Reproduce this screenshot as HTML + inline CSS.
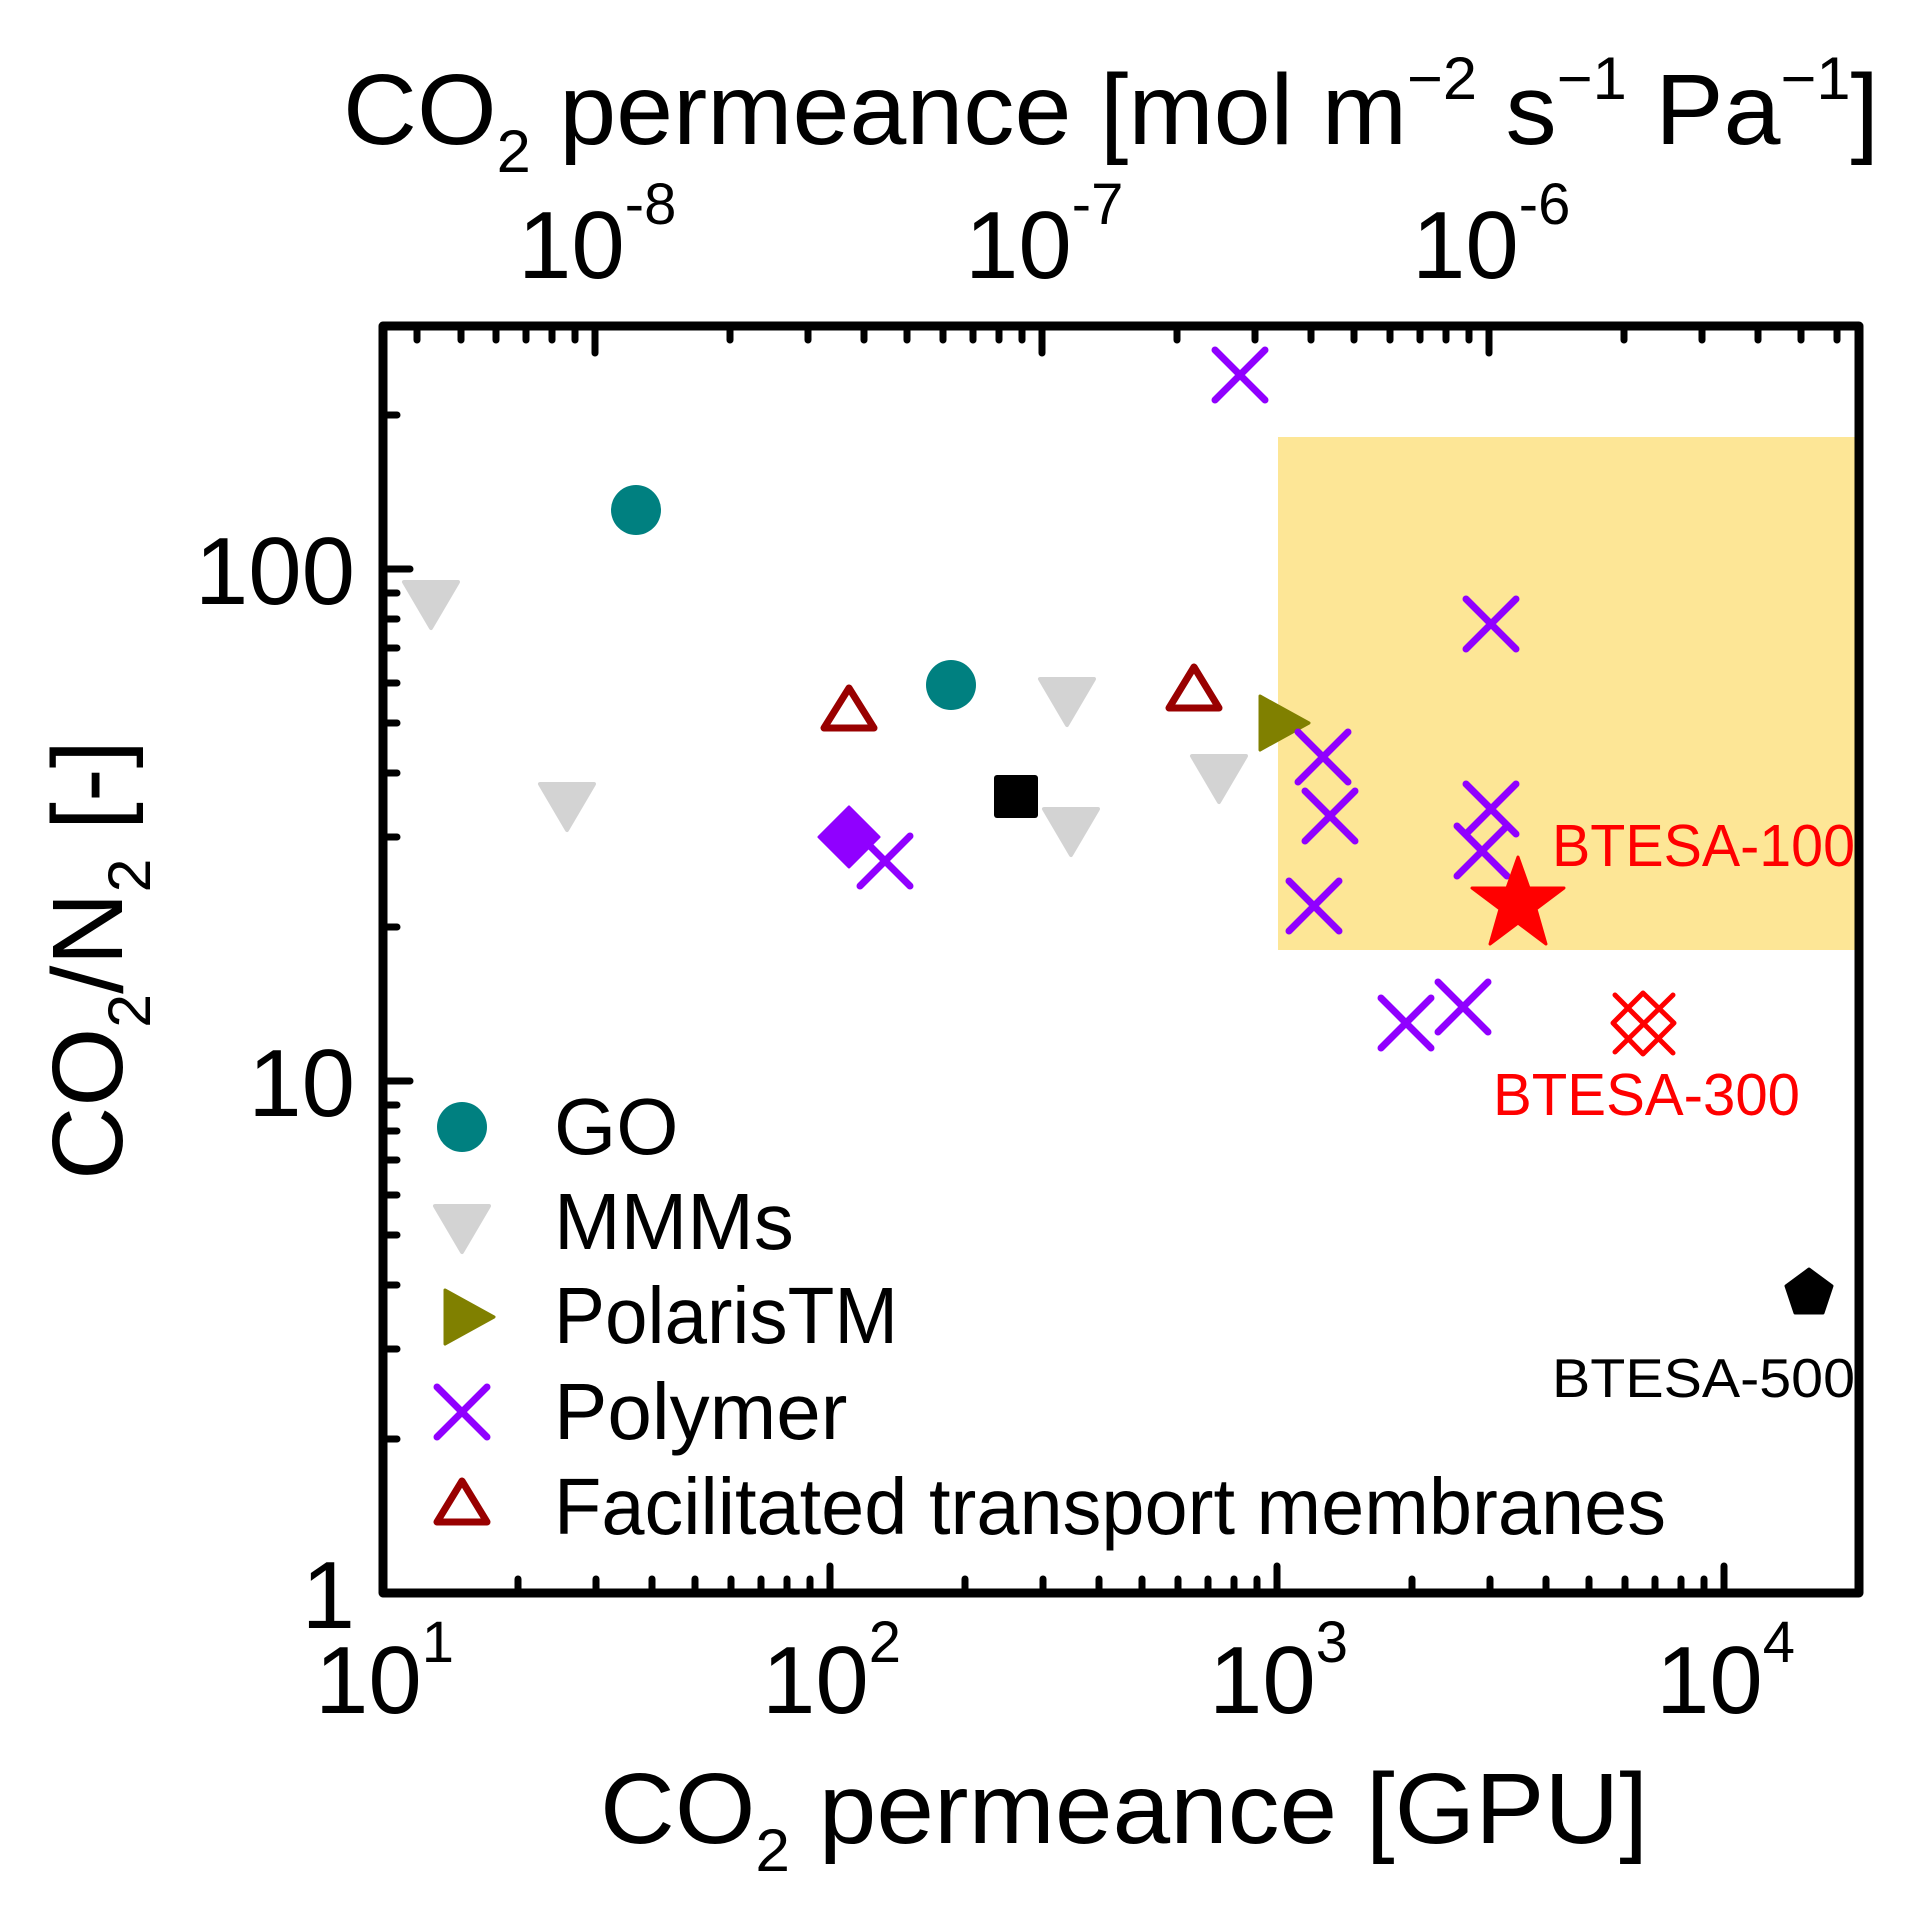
<!DOCTYPE html>
<html><head><meta charset="utf-8"><style>html,body{margin:0;padding:0;background:#fff}svg{display:block}</style></head>
<body>
<svg width="1913" height="1910" viewBox="0 0 1913 1910" xmlns="http://www.w3.org/2000/svg" font-family="'Liberation Sans', Arial, sans-serif">
<rect x="0" y="0" width="1913" height="1910" fill="#fff"/>
<rect x="1278" y="437" width="578" height="513" fill="#FDE696"/>

<g stroke="#000" stroke-width="7" stroke-linecap="round">
<line x1="830" y1="1593" x2="830" y2="1566"/><line x1="1277" y1="1593" x2="1277" y2="1566"/><line x1="1724" y1="1593" x2="1724" y2="1566"/>
<line x1="518" y1="1593" x2="518" y2="1579"/><line x1="596" y1="1593" x2="596" y2="1579"/><line x1="652" y1="1593" x2="652" y2="1579"/><line x1="695" y1="1593" x2="695" y2="1579"/><line x1="731" y1="1593" x2="731" y2="1579"/><line x1="761" y1="1593" x2="761" y2="1579"/><line x1="787" y1="1593" x2="787" y2="1579"/><line x1="810" y1="1593" x2="810" y2="1579"/>
<line x1="965" y1="1593" x2="965" y2="1579"/><line x1="1043" y1="1593" x2="1043" y2="1579"/><line x1="1099" y1="1593" x2="1099" y2="1579"/><line x1="1142" y1="1593" x2="1142" y2="1579"/><line x1="1178" y1="1593" x2="1178" y2="1579"/><line x1="1208" y1="1593" x2="1208" y2="1579"/><line x1="1234" y1="1593" x2="1234" y2="1579"/><line x1="1257" y1="1593" x2="1257" y2="1579"/>
<line x1="1412" y1="1593" x2="1412" y2="1579"/><line x1="1490" y1="1593" x2="1490" y2="1579"/><line x1="1546" y1="1593" x2="1546" y2="1579"/><line x1="1589" y1="1593" x2="1589" y2="1579"/><line x1="1625" y1="1593" x2="1625" y2="1579"/><line x1="1655" y1="1593" x2="1655" y2="1579"/><line x1="1681" y1="1593" x2="1681" y2="1579"/><line x1="1704" y1="1593" x2="1704" y2="1579"/>
<line x1="1859" y1="1593" x2="1859" y2="1579"/>
<line x1="595" y1="326" x2="595" y2="353"/><line x1="1042" y1="326" x2="1042" y2="353"/><line x1="1489" y1="326" x2="1489" y2="353"/>
<line x1="417" y1="326" x2="417" y2="340"/><line x1="461" y1="326" x2="461" y2="340"/><line x1="496" y1="326" x2="496" y2="340"/><line x1="526" y1="326" x2="526" y2="340"/><line x1="552" y1="326" x2="552" y2="340"/><line x1="575" y1="326" x2="575" y2="340"/>
<line x1="730" y1="326" x2="730" y2="340"/><line x1="808" y1="326" x2="808" y2="340"/><line x1="864" y1="326" x2="864" y2="340"/><line x1="907" y1="326" x2="907" y2="340"/><line x1="943" y1="326" x2="943" y2="340"/><line x1="973" y1="326" x2="973" y2="340"/><line x1="999" y1="326" x2="999" y2="340"/><line x1="1022" y1="326" x2="1022" y2="340"/>
<line x1="1177" y1="326" x2="1177" y2="340"/><line x1="1255" y1="326" x2="1255" y2="340"/><line x1="1311" y1="326" x2="1311" y2="340"/><line x1="1354" y1="326" x2="1354" y2="340"/><line x1="1390" y1="326" x2="1390" y2="340"/><line x1="1420" y1="326" x2="1420" y2="340"/><line x1="1446" y1="326" x2="1446" y2="340"/><line x1="1469" y1="326" x2="1469" y2="340"/>
<line x1="1624" y1="326" x2="1624" y2="340"/><line x1="1702" y1="326" x2="1702" y2="340"/><line x1="1758" y1="326" x2="1758" y2="340"/><line x1="1801" y1="326" x2="1801" y2="340"/><line x1="1837" y1="326" x2="1837" y2="340"/>
<line x1="383" y1="1081" x2="410" y2="1081"/><line x1="383" y1="569" x2="410" y2="569"/>
<line x1="383" y1="1439" x2="397" y2="1439"/><line x1="383" y1="1349" x2="397" y2="1349"/><line x1="383" y1="1285" x2="397" y2="1285"/><line x1="383" y1="1235" x2="397" y2="1235"/><line x1="383" y1="1195" x2="397" y2="1195"/><line x1="383" y1="1160" x2="397" y2="1160"/><line x1="383" y1="1131" x2="397" y2="1131"/><line x1="383" y1="1105" x2="397" y2="1105"/>
<line x1="383" y1="927" x2="397" y2="927"/><line x1="383" y1="837" x2="397" y2="837"/><line x1="383" y1="773" x2="397" y2="773"/><line x1="383" y1="723" x2="397" y2="723"/><line x1="383" y1="683" x2="397" y2="683"/><line x1="383" y1="648" x2="397" y2="648"/><line x1="383" y1="619" x2="397" y2="619"/><line x1="383" y1="593" x2="397" y2="593"/>
<line x1="383" y1="415" x2="397" y2="415"/>
</g>

<rect x="383" y="326" width="1476" height="1267" fill="none" stroke="#000" stroke-width="9" stroke-linejoin="round"/>

<g fill="#008080"><circle cx="636" cy="510" r="25"/><circle cx="951" cy="685" r="25"/><circle cx="462" cy="1127" r="25"/></g>
<g fill="#D3D3D3" stroke="#D3D3D3" stroke-width="4" stroke-linejoin="round">
<polygon points="404,582 458,582 431,628"/>
<polygon points="540,784 594,784 567,830"/>
<polygon points="1040,679 1094,679 1067,725"/>
<polygon points="1192,756 1246,756 1219,802"/>
<polygon points="1044,809 1098,809 1071,855"/>
<polygon points="435,1206 489,1206 462,1252"/>
</g>
<g fill="#808000" stroke="#808000" stroke-width="3" stroke-linejoin="round">
<polygon points="1260,696 1309,723 1260,750"/>
<polygon points="445,1290 494,1317 445,1344"/>
</g>
<g fill="none" stroke="#990000" stroke-width="7" stroke-linejoin="round">
<polygon points="849,688 824,728 874,728"/>
<polygon points="1194,667 1169,708 1219,708"/>
<polygon points="462,1481 437,1522 487,1522"/>
</g>
<rect x="994" y="775" width="44" height="43" rx="3" fill="#000"/>
<polygon points="849,807 879,837 849,867 819,837" fill="#9000FF" stroke="#9000FF" stroke-width="3" stroke-linejoin="round"/>
<g stroke="#9000FF" stroke-width="7" stroke-linecap="round" fill="none">
<path d="M860,836 l50,50 M910,836 l-50,50"/>
<path d="M1215,350 l50,50 M1265,350 l-50,50"/>
<path d="M1466,599 l50,50 M1516,599 l-50,50"/>
<path d="M1298,732 l50,50 M1348,732 l-50,50"/>
<path d="M1305,791 l50,50 M1355,791 l-50,50"/>
<path d="M1289,881 l50,50 M1339,881 l-50,50"/>
<path d="M1466,784 l50,50 M1516,784 l-50,50"/>
<path d="M1457,826 l50,50 M1507,826 l-50,50"/>
<path d="M1381,998 l50,50 M1431,998 l-50,50"/>
<path d="M1438,982 l50,50 M1488,982 l-50,50"/>
<path d="M437,1387 l50,50 M487,1387 l-50,50"/>
</g>
<polygon points="1518,857 1529,888 1564,888 1536,909 1546,944 1518,923 1490,944 1500,909 1472,888 1507,888" fill="#FF0000" stroke="#FF0000" stroke-width="3" stroke-linejoin="round"/>
<g stroke="#FF0000" stroke-width="5" stroke-linecap="round" fill="none">
<path d="M1615,1052 L1673,995 M1613,1023 L1643,993 M1643,1054 L1674,1023 M1615,995 L1673,1053 M1613,1023 L1643,1054 M1643,993 L1674,1023"/>
</g>
<polygon points="1809,1269 1832,1286 1823,1313 1795,1313 1786,1286" fill="#000" stroke="#000" stroke-width="3" stroke-linejoin="round"/>

<text x="1552" y="866" font-size="59" fill="#FF0000" textLength="303" lengthAdjust="spacingAndGlyphs">BTESA-100</text>
<text x="1493" y="1115" font-size="59" fill="#FF0000" textLength="307" lengthAdjust="spacingAndGlyphs">BTESA-300</text>
<text x="1552" y="1397" font-size="55" fill="#000" textLength="303" lengthAdjust="spacingAndGlyphs">BTESA-500</text>

<g font-size="80" fill="#000">
<text x="554" y="1154">GO</text>
<text x="554" y="1249">MMMs</text>
<text x="554" y="1343" textLength="344" lengthAdjust="spacingAndGlyphs">PolarisTM</text>
<text x="554" y="1439">Polymer</text>
<text x="554" y="1534" textLength="1112" lengthAdjust="spacingAndGlyphs">Facilitated transport membranes</text>
</g>

<g font-size="96" fill="#000">
<text x="315" y="1713">10<tspan font-size="58" dy="-51">1</tspan></text>
<text x="762" y="1713">10<tspan font-size="58" dy="-51">2</tspan></text>
<text x="1209" y="1713">10<tspan font-size="58" dy="-51">3</tspan></text>
<text x="1656" y="1713">10<tspan font-size="58" dy="-51">4</tspan></text>
<text x="518" y="278">10<tspan font-size="58" dy="-54">-8</tspan></text>
<text x="965" y="278">10<tspan font-size="58" dy="-54">-7</tspan></text>
<text x="1412" y="278">10<tspan font-size="58" dy="-54">-6</tspan></text>
<text x="355" y="1628" text-anchor="end">1</text>
<text x="355" y="1116" text-anchor="end">10</text>
<text x="355" y="604" text-anchor="end">100</text>
</g>

<text x="600" y="1843" font-size="100" fill="#000" textLength="1048" lengthAdjust="spacingAndGlyphs">CO<tspan font-size="60" dy="28">2</tspan><tspan dy="-28"> permeance [GPU]</tspan></text>
<text x="343" y="144" font-size="100" fill="#000" textLength="1536" lengthAdjust="spacingAndGlyphs">CO<tspan font-size="60" dy="28">2</tspan><tspan dy="-28"> permeance [mol m</tspan><tspan font-size="60" dy="-45">−2</tspan><tspan dy="45"> s</tspan><tspan font-size="60" dy="-45">−1</tspan><tspan dy="45"> Pa</tspan><tspan font-size="60" dy="-45">−1</tspan><tspan dy="45">]</tspan></text>
<text transform="translate(122,1180) rotate(-90)" x="0" y="0" font-size="100" fill="#000" textLength="440" lengthAdjust="spacingAndGlyphs">CO<tspan font-size="60" dy="28">2</tspan><tspan dy="-28">/N</tspan><tspan font-size="60" dy="28">2</tspan><tspan dy="-28"> [-]</tspan></text>
</svg>
</body></html>
